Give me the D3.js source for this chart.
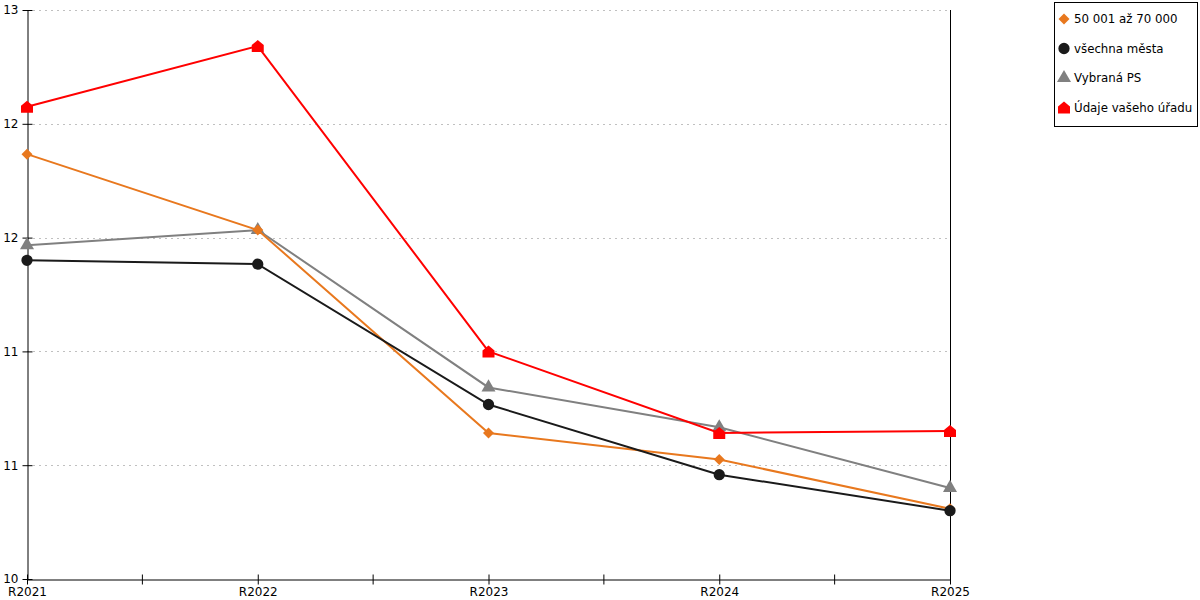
<!DOCTYPE html>
<html>
<head>
<meta charset="utf-8">
<script src="https://cdn.jsdelivr.net/npm/d3@7"></script>
<style>
  body { margin: 0; background: #fff; }
  text { font-family: "DejaVu Sans", Verdana, sans-serif; font-size: 12px; fill: #000; }
</style>
</head>
<body>
<div id="chart"></div>
<script>
// data
const years = ["R2021", "R2022", "R2023", "R2024", "R2025"];
const yTicks = [10, 10.6, 11.2, 11.8, 12.4, 13];

const seriesNames = ["50 001 až 70 000", "všechna města", "Vybraná PS", "Údaje vašeho úřadu"];
const seriesColors = ["#e8781e", "#1a1a1a", "#808080", "#ff0000"];
const seriesShapes = ["diamond", "circle", "triangle", "house"];

const orangeVals = [12.24, 11.84, 10.77, 10.63, 10.37];
const blackVals = [11.68, 11.66, 10.92, 10.55, 10.36];
const grayVals = [11.76, 11.84, 11.01, 10.80, 10.48];
const redVals = [12.49, 12.81, 11.20, 10.77, 10.78];
const seriesVals = [orangeVals, blackVals, grayVals, redVals];

// draw order (gray under orange under black, red on top)
const drawOrder = [2, 0, 1, 3];

const W = 1200, H = 600;
const plotL = 27, plotR = 950, plotT = 10, plotB = 579;

const svg = d3.select("#chart").append("svg")
    .attr("width", W)
    .attr("height", H);

const x = d3.scalePoint()
    .domain(years)
    .range([plotL, plotR]);

const y = d3.scaleLinear()
    .domain([10, 13])
    .range([plotB, plotT]);

// dotted grid
svg.append("g")
    .selectAll("line")
    .data(yTicks.filter(d => d > 10))
    .enter()
    .append("line")
    .attr("x1", plotL)
    .attr("x2", plotR)
    .attr("y1", d => Math.round(y(d)) + 0.5)
    .attr("y2", d => Math.round(y(d)) + 0.5)
    .attr("stroke", "#c0c0c0")
    .attr("stroke-dasharray", "2,4");

// right frame line
svg.append("line")
    .attr("x1", plotR + 0.5).attr("x2", plotR + 0.5)
    .attr("y1", plotT).attr("y2", plotB)
    .attr("stroke", "#000");

// y axis
const yAxis = svg.append("g")
    .attr("transform", `translate(${plotL + 0.5},0)`)
    .call(d3.axisLeft(y)
        .tickValues(yTicks)
        .tickFormat(d3.format(".0f"))
        .tickSize(5)
        .tickSizeOuter(0));
yAxis.selectAll(".tick line").attr("x2", 5).attr("x1", -5);
yAxis.selectAll(".tick text").attr("x", -9);

// x axis with half-step minor ticks
const xAxis = svg.append("g")
    .attr("transform", `translate(0,${plotB + 0.5})`)
    .call(d3.axisBottom(x).tickSize(5).tickSizeOuter(0));
xAxis.selectAll(".tick line").attr("y1", -5).attr("y2", 5);
xAxis.selectAll(".tick text").attr("y", 8);

const step = x.step();
xAxis.selectAll(".minor")
    .data(years.slice(0, -1))
    .enter()
    .append("line")
    .attr("class", "minor")
    .attr("x1", d => x(d) + step / 2)
    .attr("x2", d => x(d) + step / 2)
    .attr("y1", -5)
    .attr("y2", 5)
    .attr("stroke", "#000");

svg.selectAll(".domain, .tick line").attr("stroke", "#000");
svg.selectAll(".tick text").style("font-size", "12px");

// marker shapes
function markerPath(shape) {
    if (shape === "diamond") return "M0,-5.5L5.5,0L0,5.5L-5.5,0Z";
    if (shape === "circle") return d3.symbol().type(d3.symbolCircle).size(100)();
    if (shape === "triangle") return d3.symbol().type(d3.symbolTriangle).size(85)();
    // house: square with pointed roof
    return "M-6,6L-6,-1L0,-6L6,-1L6,6Z";
}

const line = d3.line()
    .x((d, i) => x(years[i]))
    .y(d => y(d));

drawOrder.forEach(s => {
    const g = svg.append("g");
    g.append("path")
        .datum(seriesVals[s])
        .attr("d", line)
        .attr("fill", "none")
        .attr("stroke", seriesColors[s])
        .attr("stroke-width", 2);
    g.selectAll("path.mk")
        .data(seriesVals[s])
        .enter()
        .append("path")
        .attr("class", "mk")
        .attr("d", markerPath(seriesShapes[s]))
        .attr("transform", (d, i) => `translate(${x(years[i])},${y(d)})`)
        .attr("fill", seriesColors[s]);
});

// legend
const legend = svg.append("g");
legend.append("rect")
    .attr("x", 1054.5)
    .attr("y", 2.5)
    .attr("width", 143)
    .attr("height", 124)
    .attr("fill", "#fff")
    .attr("stroke", "#000");

const items = legend.selectAll("g.item")
    .data(seriesNames)
    .enter()
    .append("g")
    .attr("class", "item")
    .attr("transform", (d, i) => `translate(1064,${19 + i * 29.5})`);

items.append("path")
    .attr("d", (d, i) => markerPath(seriesShapes[i]))
    .attr("fill", (d, i) => seriesColors[i]);

items.append("text")
    .attr("x", 10)
    .attr("dy", "0.35em")
    .style("font-size", "11.8px")
    .text(d => d);
</script>
</body>
</html>
